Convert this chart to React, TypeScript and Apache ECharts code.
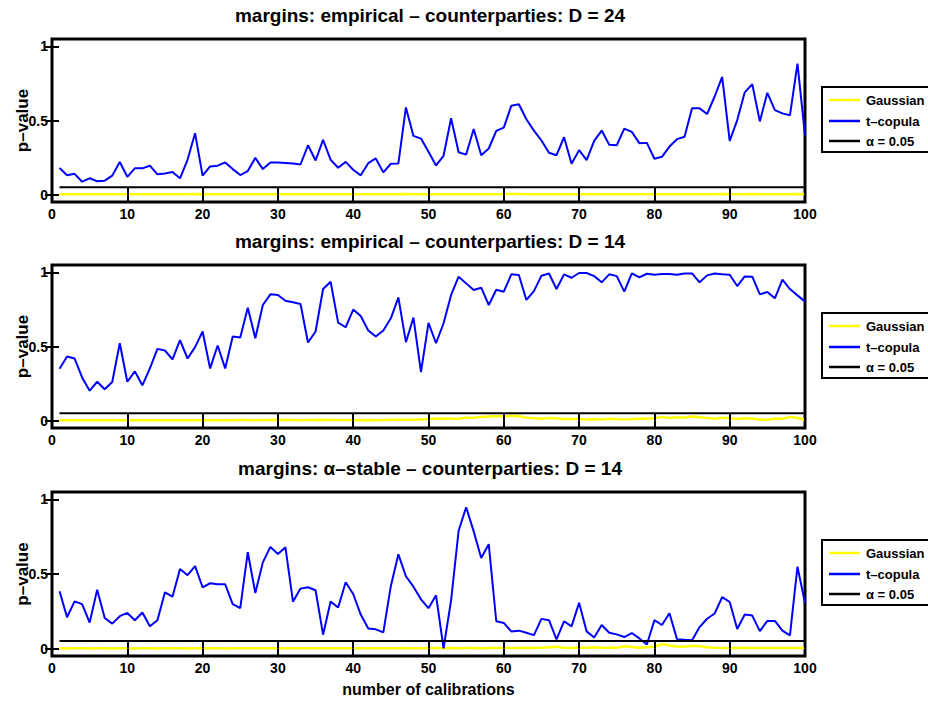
import React, { useEffect, useRef } from "react";
import * as echarts from "echarts";

const FONT = '"Liberation Sans", Arial, Helvetica, sans-serif';

const titles = [
  "margins: empirical \u2013 counterparties: D = 24",
  "margins: empirical \u2013 counterparties: D = 14",
  "margins: \u03b1\u2013stable \u2013 counterparties: D = 14",
];
const seriesNames = ["Gaussian", "t\u2013copula", "\u03b1 = 0.05"];
const xAxisName = "number of calibrations";
const yAxisName = "p\u2013value";
const yTickValues = [0, 0.5, 1];
const alphaLevel = 0.05;

// calibration index 1..100
const calib = Array.from({ length: 100 }, (_, i) => i + 1);

const tcop1 = [
  0.179, 0.13, 0.14, 0.087, 0.11, 0.09, 0.094, 0.128, 0.22, 0.12,
  0.177, 0.177, 0.195, 0.137, 0.143, 0.152, 0.11, 0.235, 0.414, 0.128,
  0.19, 0.195, 0.217, 0.172, 0.132, 0.159, 0.248, 0.172, 0.217, 0.217,
  0.214, 0.21, 0.203, 0.333, 0.23, 0.369, 0.235, 0.181, 0.221, 0.168,
  0.13, 0.212, 0.244, 0.15, 0.208, 0.21, 0.588, 0.396, 0.378, 0.289,
  0.197, 0.262, 0.515, 0.286, 0.27, 0.443, 0.266, 0.311, 0.43, 0.452,
  0.6, 0.61, 0.508, 0.432, 0.365, 0.282, 0.266, 0.387, 0.208, 0.3,
  0.233, 0.362, 0.432, 0.336, 0.333, 0.445, 0.423, 0.347, 0.349, 0.242,
  0.255, 0.324, 0.374, 0.39, 0.582, 0.582, 0.544, 0.662, 0.794, 0.362,
  0.503, 0.69, 0.745, 0.494, 0.687, 0.57, 0.548, 0.535, 0.884, 0.4,
];
const gauss1 = [
  0.003, 0.002, 0.003, 0.002, 0.002, 0.003, 0.002, 0.002, 0.003, 0.002,
  0.003, 0.002, 0.002, 0.003, 0.002, 0.002, 0.003, 0.002, 0.004, 0.002,
  0.002, 0.003, 0.002, 0.002, 0.003, 0.002, 0.003, 0.002, 0.003, 0.003,
  0.003, 0.003, 0.002, 0.003, 0.002, 0.003, 0.002, 0.002, 0.003, 0.002,
  0.002, 0.003, 0.003, 0.002, 0.003, 0.003, 0.004, 0.003, 0.003, 0.002,
  0.002, 0.003, 0.003, 0.002, 0.002, 0.003, 0.002, 0.003, 0.003, 0.003,
  0.004, 0.004, 0.003, 0.003, 0.002, 0.002, 0.002, 0.003, 0.002, 0.002,
  0.002, 0.003, 0.003, 0.002, 0.002, 0.003, 0.003, 0.002, 0.002, 0.002,
  0.002, 0.002, 0.003, 0.003, 0.003, 0.003, 0.003, 0.003, 0.004, 0.002,
  0.003, 0.003, 0.004, 0.003, 0.003, 0.003, 0.003, 0.003, 0.004, 0.003,
];

const tcop2 = [
  0.35, 0.433, 0.419, 0.291, 0.202, 0.262, 0.211, 0.26, 0.522, 0.262,
  0.332, 0.238, 0.352, 0.484, 0.473, 0.413, 0.543, 0.419, 0.496, 0.601,
  0.352, 0.507, 0.352, 0.567, 0.561, 0.762, 0.556, 0.78, 0.852, 0.848,
  0.809, 0.798, 0.787, 0.527, 0.601, 0.888, 0.937, 0.661, 0.63, 0.749,
  0.706, 0.608, 0.567, 0.608, 0.69, 0.832, 0.529, 0.695, 0.327, 0.659,
  0.522, 0.657, 0.848, 0.971, 0.926, 0.881, 0.897, 0.78, 0.883, 0.87,
  0.987, 0.982, 0.814, 0.874, 0.978, 0.993, 0.888, 0.987, 0.964, 0.996,
  0.996, 0.975, 0.933, 0.987, 0.975, 0.87, 0.993, 0.966, 0.991, 0.984,
  0.989, 0.989, 0.984, 0.993, 0.993, 0.933, 0.98, 0.993, 0.987, 0.984,
  0.908, 0.973, 0.971, 0.852, 0.868, 0.825, 0.951, 0.888, 0.845, 0.803,
];
const gauss2 = [
  0.002, 0.002, 0.003, 0.002, 0.002, 0.003, 0.002, 0.002, 0.003, 0.002,
  0.002, 0.003, 0.002, 0.002, 0.003, 0.002, 0.003, 0.002, 0.003, 0.003,
  0.003, 0.003, 0.002, 0.003, 0.004, 0.004, 0.003, 0.004, 0.004, 0.005,
  0.004, 0.004, 0.003, 0.004, 0.004, 0.005, 0.004, 0.004, 0.004, 0.003,
  0.003, 0.004, 0.003, 0.004, 0.005, 0.005, 0.006, 0.006, 0.008, 0.01,
  0.012, 0.014, 0.013, 0.012, 0.02, 0.02, 0.025, 0.028, 0.03, 0.03,
  0.032, 0.03, 0.02, 0.015, 0.012, 0.018, 0.015, 0.01, 0.01, 0.01,
  0.008, 0.01, 0.008, 0.012, 0.01, 0.008, 0.01, 0.012, 0.012, 0.015,
  0.025, 0.018, 0.022, 0.02, 0.028, 0.022, 0.018, 0.012, 0.02, 0.015,
  0.01, 0.015, 0.012, 0.008, 0.006, 0.012, 0.012, 0.025, 0.018, 0.006,
];

const tcop3 = [
  0.384, 0.21, 0.316, 0.298, 0.174, 0.395, 0.205, 0.167, 0.217, 0.239,
  0.19, 0.242, 0.149, 0.19, 0.377, 0.348, 0.533, 0.492, 0.553, 0.411,
  0.438, 0.431, 0.431, 0.298, 0.271, 0.646, 0.372, 0.578, 0.682, 0.634,
  0.679, 0.314, 0.402, 0.411, 0.391, 0.093, 0.316, 0.275, 0.445, 0.366,
  0.228, 0.135, 0.129, 0.108, 0.42, 0.632, 0.485, 0.415, 0.33, 0.271,
  0.357, 0.002, 0.323, 0.79, 0.948, 0.786, 0.607, 0.7, 0.183, 0.172,
  0.115, 0.12, 0.106, 0.09, 0.199, 0.19, 0.061, 0.183, 0.149, 0.307,
  0.115, 0.074, 0.158, 0.106, 0.095, 0.077, 0.104, 0.068, 0.027, 0.19,
  0.158, 0.237, 0.063, 0.059, 0.056, 0.144, 0.2, 0.235, 0.345, 0.312,
  0.131, 0.228, 0.221, 0.117, 0.185, 0.185, 0.12, 0.088, 0.549, 0.305,
];
const gauss3 = [
  0.002, 0.001, 0.002, 0.002, 0.001, 0.002, 0.002, 0.001, 0.002, 0.002,
  0.001, 0.002, 0.002, 0.001, 0.002, 0.002, 0.002, 0.001, 0.002, 0.002,
  0.002, 0.002, 0.001, 0.002, 0.002, 0.002, 0.002, 0.002, 0.002, 0.002,
  0.002, 0.002, 0.002, 0.002, 0.002, 0.002, 0.002, 0.002, 0.002, 0.002,
  0.002, 0.002, 0.002, 0.002, 0.002, 0.002, 0.003, 0.002, 0.002, 0.003,
  0.003, 0.002, 0.003, 0.002, 0.003, 0.003, 0.002, 0.003, 0.004, 0.003,
  0.004, 0.004, 0.005, 0.004, 0.006, 0.008, 0.012, 0.006, 0.004, 0.006,
  0.005, 0.008, 0.006, 0.007, 0.006, 0.016, 0.01, 0.006, 0.008, 0.012,
  0.03, 0.02, 0.014, 0.012, 0.018, 0.016, 0.008, 0.005, 0.004, 0.004,
  0.004, 0.005, 0.004, 0.004, 0.003, 0.004, 0.004, 0.003, 0.004, 0.004,
];

const panels = [
  { title: titles[0], gauss: gauss1, tcop: tcop1 },
  { title: titles[1], gauss: gauss2, tcop: tcop2 },
  { title: titles[2], gauss: gauss3, tcop: tcop3 },
];

const COLORS = ["#ffff00", "#0000ff", "#000000"];

export default function App() {
  const ref = useRef<HTMLDivElement>(null);

  useEffect(() => {
    if (!ref.current) return;
    const chart = echarts.init(ref.current, null, { renderer: "svg" });

    const gridLeft = 52;
    const gridWidth = 753;
    const layout = [
      { top: 39, height: 163, titleY: 15 },
      { top: 265, height: 163, titleY: 241 },
      { top: 492, height: 164, titleY: 468 },
    ];

    const grid: any[] = [];
    const xAxis: any[] = [];
    const yAxis: any[] = [];
    const series: any[] = [];
    const graphic: any[] = [];

    const tickStyle = { color: "#000", width: 2 };
    const labelStyle = {
      color: "#000",
      fontWeight: "bold",
      fontSize: 14,
      fontFamily: FONT,
    };

    panels.forEach((p, i) => {
      const L = layout[i];
      grid.push({
        left: gridLeft,
        width: gridWidth,
        top: L.top,
        height: L.height,
        containLabel: false,
        outerBoundsMode: "none",
        show: true,
        borderColor: "#000",
        borderWidth: 3,
        backgroundColor: "transparent",
      });
      const xBase = {
        type: "value",
        gridIndex: i,
        min: 0,
        max: 100,
        interval: 10,
        axisLine: { show: false },
        splitLine: { show: false },
        z: 5,
      };
      xAxis.push({
        ...xBase,
        position: "bottom",
        axisTick: { inside: true, length: 7, lineStyle: tickStyle },
        axisLabel: { ...labelStyle, margin: 5 },
        name: i === 2 ? xAxisName : "",
        nameLocation: "middle",
        nameGap: 25,
        nameMoveOverlap: false,
        nameTextStyle: {
          color: "#000",
          fontWeight: "bold",
          fontSize: 16,
          fontFamily: FONT,
        },
      });
      xAxis.push({
        ...xBase,
        position: "top",
        axisTick: { inside: true, length: 7, lineStyle: tickStyle },
        axisLabel: { show: false },
      });
      const yBase = {
        type: "value",
        gridIndex: i,
        min: -0.05,
        max: 1.05,
        axisLine: { show: false },
        splitLine: { show: false },
        z: 5,
      };
      yAxis.push({
        ...yBase,
        position: "left",
        axisTick: {
          inside: true,
          length: 7,
          lineStyle: tickStyle,
          customValues: yTickValues,
        },
        axisLabel: { ...labelStyle, margin: 4, customValues: yTickValues },
        name: yAxisName,
        nameLocation: "middle",
        nameGap: 21,
        nameRotate: 90,
        nameMoveOverlap: false,
        nameTextStyle: {
          color: "#000",
          fontWeight: "bold",
          fontSize: 17,
          fontFamily: FONT,
        },
      });
      yAxis.push({
        ...yBase,
        position: "right",
        axisTick: {
          inside: true,
          length: 7,
          lineStyle: tickStyle,
          customValues: yTickValues,
        },
        axisLabel: { show: false, customValues: yTickValues },
      });

      const xi = i * 2;
      const yi = i * 2;
      series.push({
        name: seriesNames[0],
        type: "line",
        xAxisIndex: xi,
        yAxisIndex: yi,
        data: calib.map((c, k) => [c, p.gauss[k]]),
        symbol: "none",
        lineStyle: { color: COLORS[0], width: 2.5 },
        itemStyle: { color: COLORS[0] },
        z: 2,
      });
      series.push({
        name: seriesNames[1],
        type: "line",
        xAxisIndex: xi,
        yAxisIndex: yi,
        data: calib.map((c, k) => [c, p.tcop[k]]),
        symbol: "none",
        lineStyle: { color: COLORS[1], width: 2 },
        itemStyle: { color: COLORS[1] },
        z: 3,
      });
      series.push({
        name: seriesNames[2],
        type: "line",
        xAxisIndex: xi,
        yAxisIndex: yi,
        data: [
          [calib[0], alphaLevel],
          [calib[calib.length - 1], alphaLevel],
        ],
        symbol: "none",
        lineStyle: { color: COLORS[2], width: 2 },
        itemStyle: { color: COLORS[2] },
        z: 4,
      });

      // title
      graphic.push({
        type: "text",
        x: 430,
        y: L.titleY,
        style: {
          text: p.title,
          align: "center",
          verticalAlign: "middle",
          fontSize: 19,
          fontWeight: "bold",
          fontFamily: FONT,
          fill: "#000",
        },
      });

      // legend box
      const bt = L.top + 48;
      const rows = [13, 34, 54];
      const children: any[] = [
        {
          type: "rect",
          shape: { x: 822, y: bt, width: 130, height: 65 },
          style: { fill: "#fff", stroke: "#000", lineWidth: 2 },
        },
      ];
      seriesNames.forEach((nm, r) => {
        children.push({
          type: "line",
          shape: { x1: 829, y1: bt + rows[r], x2: 860, y2: bt + rows[r] },
          style: { stroke: COLORS[r], lineWidth: 2.5 },
        });
        children.push({
          type: "text",
          x: 866,
          y: bt + rows[r],
          style: {
            text: nm,
            align: "left",
            verticalAlign: "middle",
            fontSize: 13,
            fontWeight: "bold",
            fontFamily: FONT,
            fill: "#000",
          },
        });
      });
      graphic.push({ type: "group", children });
    });

    chart.setOption({
      animation: false,
      backgroundColor: "#fff",
      grid,
      xAxis,
      yAxis,
      series,
      graphic,
    });

    return () => chart.dispose();
  }, []);

  return (
    <div
      ref={ref}
      style={{
        position: "fixed",
        left: 0,
        top: 0,
        width: 928,
        height: 702,
        background: "#fff",
      }}
    />
  );
}
